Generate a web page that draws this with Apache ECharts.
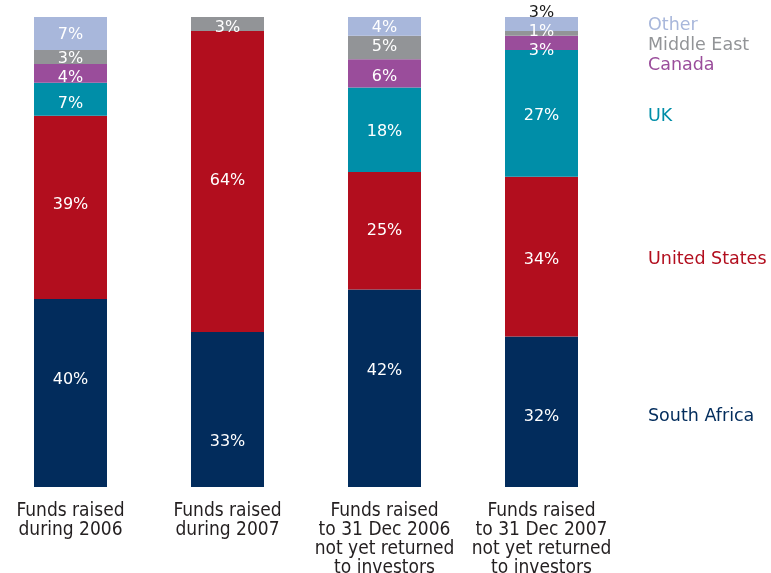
<!DOCTYPE html>
<html>
<head>
<meta charset="utf-8">
<script src="https://cdn.jsdelivr.net/npm/echarts@6/dist/echarts.min.js"></script>
<style>
  html, body { margin: 0; padding: 0; background: #ffffff; }
  #chart { width: 771px; height: 573px; }
</style>
</head>
<body>
<div id="chart"></div>
<script>
// Fund categories (x axis)
const categories = [
  'Funds raised\nduring 2006',
  'Funds raised\nduring 2007',
  'Funds raised\nto 31 Dec 2006\nnot yet returned\nto investors',
  'Funds raised\nto 31 Dec 2007\nnot yet returned\nto investors'
];

// Share of funds by investor region (%), bottom to top of each stack
const southAfrica  = [40, 33, 42, 32];
const unitedStates = [39, 64, 25, 34];
const uk           = [7, 0, 18, 27];
const canada       = [4, 0, 6, 3];
const middleEast   = [3, 3, 5, 1];
const other        = [7, 0, 4, 3];

const regionNames  = ['South Africa', 'United States', 'UK', 'Canada', 'Middle East', 'Other'];
const regionValues = [southAfrica, unitedStates, uk, canada, middleEast, other];
const regionColors = ['#022c5c', '#b20e1e', '#008ea8', '#9a4d9b', '#929497', '#a8b7db'];

// Vertical placement of the region names on the right
const legendTops = [402, 245, 102, 51, 31, 11];

// Vertical label nudges (px) per region and per column
const labelNudges = [
  [-13, 32, -17, 5],
  [-3, -1, 0, 3],
  [5, 0, 2, 2],
  [4, 0, 3, 8],
  [2, 4, -1, -2],
  [1, 0, 1, 0]
];

const valueFont = '"DejaVu Sans", sans-serif';

function buildData(idx, values) {
  return values.map((v, i) => {
    const item = { value: v, label: { offset: [0, labelNudges[idx][i]] } };
    // The thin top slice of the last column carries its value above the bar
    if (idx === 5 && i === 3) {
      item.label = { position: 'top', color: '#1a1a1a', distance: -4 };
    }
    return item;
  });
}

const series = regionNames.map((name, idx) => ({
  name: name,
  type: 'bar',
  stack: 'total',
  barWidth: 73,
  itemStyle: { color: regionColors[idx] },
  emphasis: { disabled: true },
  label: {
    show: true,
    position: 'inside',
    color: '#ffffff',
    fontFamily: valueFont,
    fontSize: 16,
    formatter: p => (p.value > 0 ? p.value + '%' : '')
  },
  data: buildData(idx, regionValues[idx])
}));

const legends = regionNames.map((name, idx) => ({
  data: [name],
  left: 638,
  top: legendTops[idx],
  orient: 'vertical',
  icon: 'none',
  itemWidth: 0,
  itemHeight: 0,
  selectedMode: false,
  textStyle: {
    color: regionColors[idx],
    fontFamily: valueFont,
    fontSize: 17.5
  }
}));

const chart = echarts.init(document.getElementById('chart'), null, { renderer: 'canvas' });
chart.setOption({
  animation: false,
  backgroundColor: '#ffffff',
  legend: legends,
  grid: {
    left: -8, top: 17, width: 628, height: 470,
    containLabel: false,
    outerBoundsMode: 'none'
  },
  xAxis: {
    type: 'category',
    data: categories,
    axisLine: { show: false },
    axisTick: { show: false },
    axisLabel: {
      interval: 0,
      margin: 15,
      color: '#231f20',
      fontFamily: '"Liberation Sans Narrow", "DejaVu Sans Condensed", sans-serif',
      fontSize: 19,
      lineHeight: 19,
      align: 'center'
    }
  },
  yAxis: {
    type: 'value',
    min: 0,
    max: 100,
    show: false,
    splitLine: { show: false }
  },
  series: series
});
</script>
</body>
</html>
